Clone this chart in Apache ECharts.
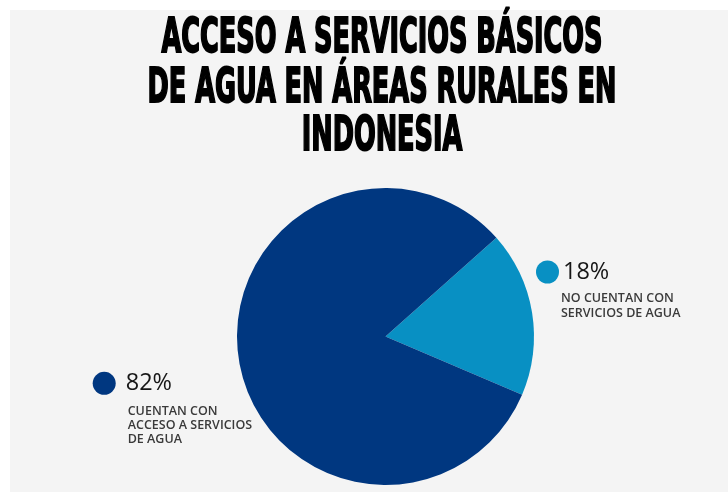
<!DOCTYPE html>
<html><head><meta charset="utf-8">
<script src="https://cdn.jsdelivr.net/npm/echarts/dist/echarts.min.js"></script>
<style>
html,body{margin:0;padding:0;background:#fff;}
#bg{position:absolute;left:10px;top:10px;width:718px;height:482px;background:#f4f4f4;}
#chart{position:absolute;left:0;top:0;width:728px;height:492px;}
</style></head><body>
<div id="bg"></div><div id="chart"></div>
<script>
// ---- data ----
const titleLines = ['ACCESO A SERVICIOS BÁSICOS', 'DE AGUA EN ÁREAS RURALES EN', 'INDONESIA'];
const categories = ['No cuentan con servicios de agua', 'Cuentan con acceso a servicios de agua'];
const values = [18, 82];
const pctLabels = ['18%', '82%'];
const descLines = [
  ['NO CUENTAN CON', 'SERVICIOS DE AGUA'],
  ['CUENTAN CON', 'ACCESO A SERVICIOS', 'DE AGUA']
];

// ---- styles / layout ----
const colors = ['#0890c3', '#003780'];
const labelPos = [[536, 260.5], [92.7, 371.8]];
const pctGap = [4, 10];
const descIndent = [25, 35];
const descTopPad = [7.6, 10.1];
const descLineH = [15.1, 14];

const titleFont = 'bold 48px "Liberation Sans Narrow", "DejaVu Sans Condensed", sans-serif';
const ctx = document.createElement('canvas').getContext('2d');
ctx.font = titleFont;
const sx = 441 / ctx.measureText(titleLines[0]).width;
const titleY = [39.2, 89.2, 137.5];

const rich = {};
values.forEach((v, i) => {
  rich['dot' + i] = {width: 23, height: 23, borderRadius: 11.5, backgroundColor: colors[i]};
  rich['pct' + i] = {fontSize: 23.5, fontFamily: '"Open Sans", sans-serif', color: '#161616', height: 23, padding: [0, 0, 0, pctGap[i]]};
  rich['dA' + i] = {fontSize: 12.5, fontFamily: '"Open Sans", sans-serif', fontWeight: 600, color: '#3a3a3a', height: descLineH[i], padding: [descTopPad[i], 0, 0, descIndent[i]]};
  rich['d' + i] = {fontSize: 12.5, fontFamily: '"Open Sans", sans-serif', fontWeight: 600, color: '#3a3a3a', height: descLineH[i], padding: [0, 0, 0, descIndent[i]]};
});

const chart = echarts.init(document.getElementById('chart'));
chart.setOption({
  backgroundColor: 'transparent',
  animation: false,
  graphic: titleLines.map((t, i) => ({
    type: 'text', x: 382, y: titleY[i], scaleX: sx, silent: true,
    style: {text: t, font: titleFont, fill: '#000', stroke: '#000', lineWidth: 2, align: 'center', verticalAlign: 'middle'}
  })),
  series: [{
    type: 'pie',
    center: [385.5, 336.5],
    radius: 148.5,
    startAngle: 41.7,
    clockwise: true,
    silent: true,
    data: categories.map((c, i) => ({name: c, value: values[i], itemStyle: {color: colors[i]}})),
    label: {
      show: true,
      position: 'outside',
      formatter: p => {
        const i = p.dataIndex;
        const d = descLines[i].map((s, k) => '{' + (k === 0 ? 'dA' : 'd') + i + '|' + s + '}').join('\n');
        return '{dot' + i + '|}{pct' + i + '|' + pctLabels[i] + '}\n' + d;
      },
      rich: rich
    },
    labelLine: {show: false},
    labelLayout: p => ({x: labelPos[p.dataIndex][0], y: labelPos[p.dataIndex][1], align: 'left', verticalAlign: 'top'})
  }]
});
</script>
</body></html>
